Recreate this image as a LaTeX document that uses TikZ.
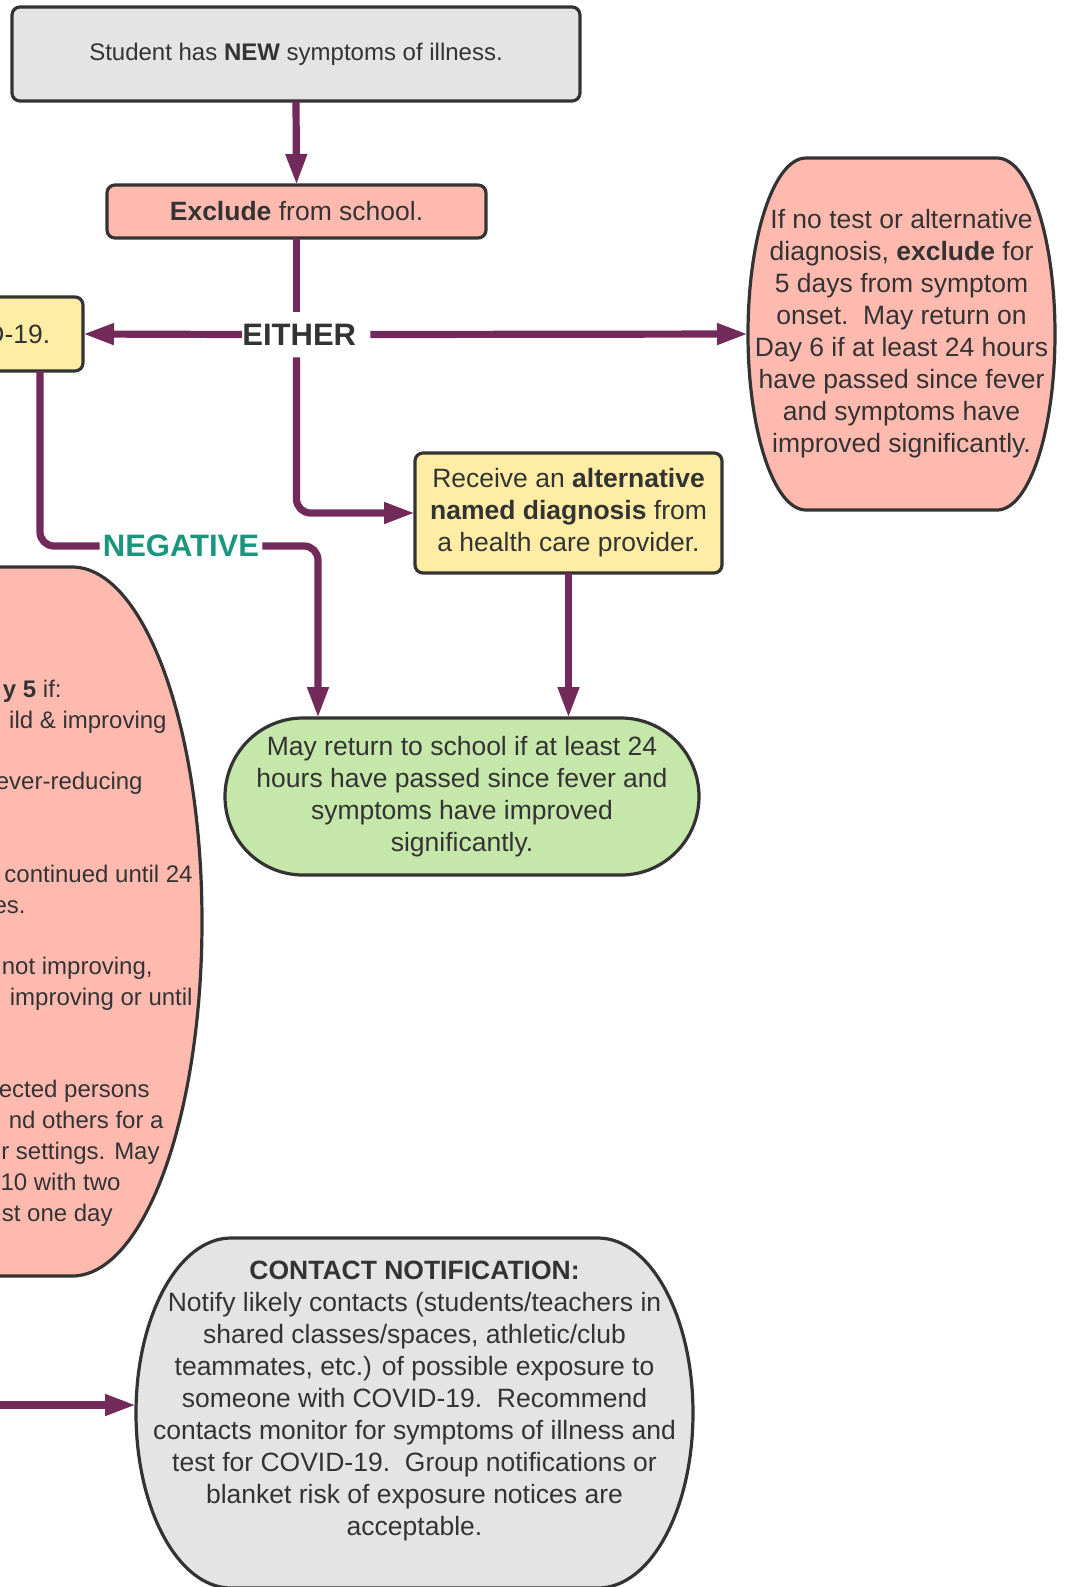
\documentclass[tikz,border=0pt]{standalone}
\usepackage{fontspec}
\setmainfont{Liberation Sans}
\usetikzlibrary{arrows.meta,backgrounds}

\definecolor{edgegrey}{HTML}{333333}
\definecolor{textgrey}{HTML}{333333}
\definecolor{greyfill}{HTML}{E4E4E4}
\definecolor{pinkfill}{HTML}{FFBAB0}
\definecolor{yellowfill}{HTML}{FFEDA6}
\definecolor{greenfill}{HTML}{C6E7AA}
\definecolor{flowpurple}{HTML}{722A5A}
\definecolor{negteal}{HTML}{19967D}

\tikzset{
  roundbox/.style={draw=edgegrey, line width=1.6pt, rounded corners=4pt, text=textgrey, align=center,
    inner sep=0pt, outer sep=0pt, font=\fontsize{13.25}{16}\selectfont},
  ovalbox/.style={text=textgrey, align=center, inner sep=0pt, outer sep=0pt, font=\fontsize{13.25}{16}\selectfont},
  ovalline/.style={draw=edgegrey, line width=1.6pt},
  link/.style={draw=flowpurple, line width=3.6pt},
  flow/.style={link, -{Triangle[length=15.5pt,width=10pt]}},
  lbl/.style={fill=white, text=textgrey, inner sep=0pt, font=\fontsize{15.5}{18}\selectfont\bfseries},
  cuttext/.style={anchor=base east, text=textgrey, inner sep=0pt, font=\fontsize{12}{15}\selectfont}
}

% flat top and bottom, half-ellipse sides
\newcommand{\sidearcs}[4]{%
  \filldraw[ovalline, fill=#4] ([xshift=#2]#1.north west) -- ([xshift=-#2]#1.north east)
    arc[start angle=90, end angle=-90, x radius=#2, y radius=#3]
    -- ([xshift=#2]#1.south west)
    arc[start angle=270, end angle=90, x radius=#2, y radius=#3] -- cycle;}

\begin{document}
\begin{tikzpicture}[x=0.5pt, y=-0.5pt]
\useasboundingbox (0,0) rectangle (1075,1587);
\clip (0,0) rectangle (1075,1587);

% Draw the boxes
\node[roundbox, fill=greyfill, minimum width=284pt, minimum height=47pt, font=\fontsize{12}{15}\selectfont]
  (newsymp) at (296,54) {Student has \textbf{NEW} symptoms of illness.};
\node[roundbox, fill=pinkfill, minimum width=189.5pt, minimum height=26.5pt]
  (exclude) at (296.5,211.5) {\textbf{Exclude} from school.};
\node[roundbox, fill=yellowfill, minimum width=97.5pt, minimum height=37pt]
  (testbox) at (-14.5,334) {COVID-19.};
\node[roundbox, fill=yellowfill, minimum width=153.5pt, minimum height=60pt]
  (altdiag) at (568.5,513) {Receive an \textbf{alternative}\\\textbf{named diagnosis} from\\a health care provider.};

% Draw the rounded shapes
\node[ovalbox, minimum width=153.5pt, minimum height=176pt] (notest) at (901.5,334)
  {If no test or alternative\\diagnosis, \textbf{exclude} for\\5 days from symptom\\onset.\ \ May return on\\Day 6 if at least 24 hours\\have passed since fever\\and symptoms have\\improved significantly.};
\node[ovalbox, minimum width=237pt, minimum height=78.5pt] (mayreturn) at (462,796.5)
  {May return to school if at least 24\\hours have passed since fever and\\symptoms have improved\\significantly.};
\node[ovalbox, minimum width=301pt, minimum height=354.5pt] (isolate) at (-99,921.5) {};
\node[ovalbox, minimum width=278.5pt, minimum height=175pt] (contact) at (414.5,1413) {};
\node[ovalbox] (contacttext) at (414.5,1401)
  {\textbf{CONTACT NOTIFICATION:}\\Notify likely contacts (students/teachers in\\shared classes/spaces, athletic/club\\teammates, etc.) of possible exposure to\\someone with COVID-19.\ \ Recommend\\contacts monitor for symptoms of illness and\\test for COVID-19.\ \ Group notifications or\\blanket risk of exposure notices are\\acceptable.};

\begin{scope}[on background layer]
\clip (0,0) rectangle (1075,1587);
\sidearcs{notest}{29pt}{88pt}{pinkfill}
\sidearcs{mayreturn}{39pt}{39.25pt}{greenfill}
\sidearcs{isolate}{65pt}{177.25pt}{pinkfill}
\sidearcs{contact}{47.5pt}{87.5pt}{greyfill}
\end{scope}

% Text cut by the left edge
\node[cuttext] (iso1) at (62,697) {\textbf{y 5} if:};
\node[cuttext] (iso2) at (167,728) {ild \& improving};
\node[cuttext] (iso3) at (143,789) {ever-reducing};
\node[cuttext] (iso4) at (193,882) {continued until 24};
\node[cuttext] (iso5) at (26,913) {es.};
\node[cuttext] (iso6) at (153,974) {not improving,};
\node[cuttext] (iso7) at (193,1005) {improving or until};
\node[cuttext] (iso8) at (150,1097) {ected persons};
\node[cuttext] (iso9) at (164,1128) {nd others for a};
\node[cuttext] (iso10) at (160,1159) {r settings. May};
\node[cuttext] (iso11) at (121,1190) {10 with two};
\node[cuttext] (iso12) at (113,1221) {st one day};

% Labels on the lines
\node[lbl, anchor=west, minimum height=22.5pt] (either) at (242,334.5) {EITHER\kern7pt};
\node[lbl, text=negteal, minimum width=81pt, minimum height=20pt] (neg) at (181,546) {NEGATIVE};

% Draw the arrows
\coordinate (negturn) at (40,545);
\coordinate (negin) at (318,545);
\coordinate (fromleft) at (-20,1405);
\draw[flow] (newsymp.south) -- (exclude.north);
\draw[link] (exclude.south) -- (exclude.south |- either.north);
\draw[flow] (either.west) -- (testbox.east);
\draw[flow] (either.east) -- (notest.west);
\draw[flow, rounded corners=7pt] (exclude.south |- either.south) |- (altdiag.west);
\draw[link, rounded corners=7pt] (testbox.south -| negturn) |- (neg.west);
\draw[flow, rounded corners=7pt] (neg.east) -| (negin |- mayreturn.north);
\draw[flow] (altdiag.south) -- (altdiag.south |- mayreturn.north);
\draw[flow] (fromleft) -- (fromleft -| contact.west);
\end{tikzpicture}
\end{document}
